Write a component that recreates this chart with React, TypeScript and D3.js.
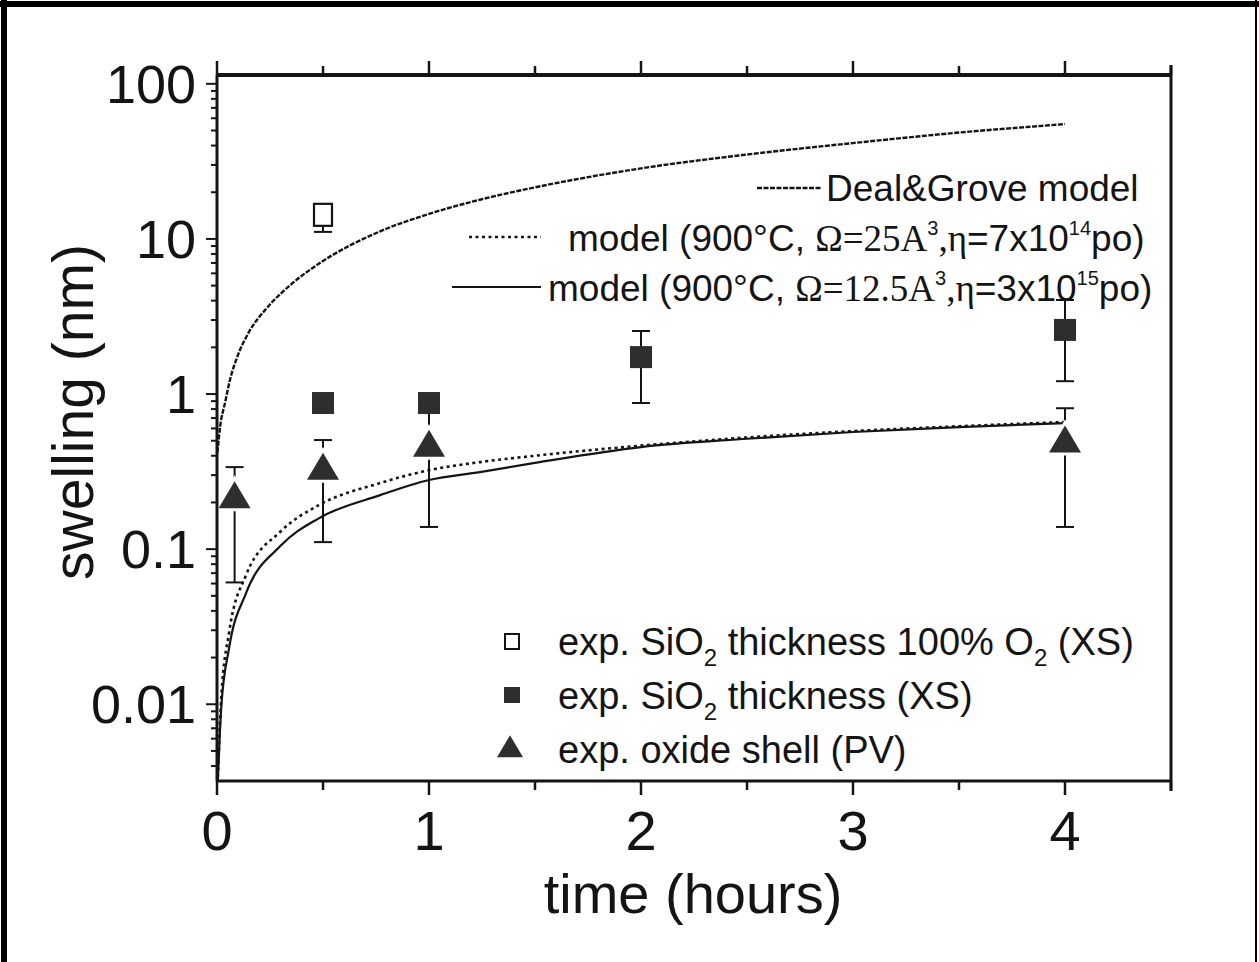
import React from "react";
import * as d3 from "d3";

const W = 1259;
const H = 962;
const PLOT = { left: 217, right: 1171, top: 75, bottom: 781 };

const xDomain = [0, 4.5];
const yDomain = [0.0032, 114];
const xTickValues = [0, 1, 2, 3, 4];
const xTickLabels = ["0", "1", "2", "3", "4"];
const xMinorTicks = [0.5, 1.5, 2.5, 3.5, 4.5];
const yTickValues = [0.01, 0.1, 1, 10, 100];
const yTickLabels = ["0.01", "0.1", "1", "10", "100"];

// model curves [time (h), swelling (nm)]
const dealGrove = [
  [0.002, 0.42], [0.015, 0.62], [0.038, 0.88], [0.061, 1.23], [0.1, 1.8],
  [0.15, 2.5], [0.236, 3.6], [0.35, 5.1], [0.5, 7.2], [0.77, 11.2],
  [1.0, 14.5], [1.24, 17.9], [1.5, 21.5], [2.0, 28.5], [2.5, 35],
  [3.0, 41.5], [3.5, 48.5], [4.0, 55],
];
const modelDotted = [
  [0.004, 0.0034], [0.02, 0.011], [0.057, 0.029], [0.137, 0.068], [0.3, 0.13],
  [0.48, 0.192], [0.77, 0.267], [1.0, 0.323], [1.24, 0.364], [1.5, 0.4],
  [2.0, 0.465], [2.5, 0.525], [3.0, 0.577], [3.5, 0.62], [4.0, 0.66],
];
const modelSolid = [
  [0.004, 0.0032], [0.02, 0.0095], [0.057, 0.023], [0.137, 0.052], [0.3, 0.105],
  [0.48, 0.158], [0.77, 0.223], [1.0, 0.279], [1.24, 0.314], [1.5, 0.36],
  [2.0, 0.455], [2.5, 0.515], [3.0, 0.569], [3.5, 0.612], [4.0, 0.65],
];

// experimental points
const openSqT = [0.5];
const openSqV = [14.3];
const openSqLo = [11.1];
const openSqHi = [14.3];

const fillSqT = [0.5, 1, 2, 4];
const fillSqV = [0.875, 0.875, 1.73, 2.59];
const fillSqLo = [0.875, 0.875, 0.875, 1.21];
const fillSqHi = [0.875, 0.875, 2.55, 4.04];

const triT = [0.083, 0.5, 1, 4];
const triV = [0.21, 0.32, 0.45, 0.48];
const triLo = [0.061, 0.111, 0.139, 0.139];
const triHi = [0.338, 0.505, 0.85, 0.81];

const SANS = "'Liberation Sans', Arial, Helvetica, sans-serif";
const SERIF = "'Liberation Serif', 'Times New Roman', serif";
const INK = "#141414";
const MARK = "#2e2e2e";

export default function App() {
  const x = d3.scaleLinear().domain(xDomain).range([PLOT.left, PLOT.right]);
  const y = d3.scaleLog().domain(yDomain).range([PLOT.bottom, PLOT.top]);

  const line = d3
    .line<number[]>()
    .x((d) => x(d[0]))
    .y((d) => y(d[1]))
    .curve(d3.curveMonotoneX);

  const yMinor: number[] = [];
  for (let e = -3; e <= 2; e++) {
    for (let k = 2; k <= 9; k++) {
      const v = k * Math.pow(10, e);
      if (v >= yDomain[0] && v <= yDomain[1]) yMinor.push(v);
    }
  }

  const tri = (cx: number, cy: number, w: number, h: number) =>
    `M${cx - w / 2},${cy + h / 3}L${cx + w / 2},${cy + h / 3}L${cx},${cy - (2 * h) / 3}Z`;

  const errBar = (t: number, lo: number, hi: number, key: string) => {
    const cx = x(t);
    const cap = 9;
    return (
      <g key={key} stroke={INK} strokeWidth={2}>
        <line x1={cx} x2={cx} y1={y(lo)} y2={y(hi)} />
        {lo !== hi && <line x1={cx - cap} x2={cx + cap} y1={y(lo)} y2={y(lo)} />}
        {lo !== hi && <line x1={cx - cap} x2={cx + cap} y1={y(hi)} y2={y(hi)} />}
      </g>
    );
  };

  const legendFont = 37;
  const subDy = 11;
  const supDy = -16;

  return (
    <div style={{ position: "absolute", left: 0, top: 0 }}>
      <svg width={W} height={H} style={{ display: "block", background: "#fff" }} fontFamily={SANS}>
        {/* outer frame */}
        <line x1={0} x2={W} y1={4} y2={4} stroke="#000" strokeWidth={6} />
        <line x1={4} x2={4} y1={0} y2={H} stroke="#000" strokeWidth={6} />
        <line x1={1256} x2={1256} y1={0} y2={H} stroke="#000" strokeWidth={2} />

        {/* model curves */}
        <path d={line(dealGrove as any) || ""} fill="none" stroke={INK} strokeWidth={2.4} strokeDasharray="5 1.5" />
        <path d={line(modelDotted as any) || ""} fill="none" stroke={INK} strokeWidth={2.6} strokeDasharray="3 3.5" />
        <path d={line(modelSolid as any) || ""} fill="none" stroke={INK} strokeWidth={2.2} />

        {/* error bars */}
        {openSqT.map((t, i) => errBar(t, openSqLo[i], openSqHi[i], "oe" + i))}
        {fillSqT.map((t, i) => errBar(t, fillSqLo[i], fillSqHi[i], "fe" + i))}
        {triT.map((t, i) => errBar(t, triLo[i], triHi[i], "te" + i))}

        {/* markers */}
        {openSqT.map((t, i) => (
          <rect key={"os" + i} x={x(t) - 9} y={y(openSqV[i]) - 11} width={18} height={22} fill="#fff" stroke={INK} strokeWidth={2.2} />
        ))}
        {fillSqT.map((t, i) => (
          <rect key={"fs" + i} x={x(t) - 11} y={y(fillSqV[i]) - 11} width={22} height={22} fill={MARK} />
        ))}
        {triT.map((t, i) => (
          <path key={"tr" + i} d={tri(x(t), y(triV[i]), 32, 27)} fill={MARK} stroke="#fff" strokeWidth={6} style={{ paintOrder: "stroke" }} />
        ))}

        {/* axes frame */}
        <g stroke={INK} fill="none">
          <line x1={PLOT.left} x2={PLOT.right} y1={PLOT.top} y2={PLOT.top} strokeWidth={4} />
          <line x1={PLOT.left} x2={PLOT.right} y1={PLOT.bottom} y2={PLOT.bottom} strokeWidth={3} />
          <line x1={PLOT.left} x2={PLOT.left} y1={PLOT.top} y2={PLOT.bottom} strokeWidth={3} />
          <line x1={PLOT.right} x2={PLOT.right} y1={PLOT.top - 10} y2={PLOT.bottom + 10} strokeWidth={3} />
        </g>

        {/* x ticks (bottom & top) */}
        <g stroke={INK} strokeWidth={2.5}>
          {xTickValues.map((t) => (
            <g key={"xt" + t}>
              <line x1={x(t)} x2={x(t)} y1={PLOT.bottom} y2={PLOT.bottom + 14} />
              <line x1={x(t)} x2={x(t)} y1={PLOT.top} y2={PLOT.top - 14} />
            </g>
          ))}
          {xMinorTicks.map((t) => (
            <g key={"xm" + t}>
              <line x1={x(t)} x2={x(t)} y1={PLOT.bottom} y2={PLOT.bottom + 9} />
              <line x1={x(t)} x2={x(t)} y1={PLOT.top} y2={PLOT.top - 9} />
            </g>
          ))}
        </g>
        {xTickValues.map((t, i) => (
          <text key={"xl" + t} x={x(t)} y={850} textAnchor="middle" fontSize={56} fill={INK}>
            {xTickLabels[i]}
          </text>
        ))}

        {/* y ticks */}
        <g stroke={INK} strokeWidth={2}>
          {yTickValues.map((v) => (
            <line key={"yt" + v} x1={PLOT.left - 11} x2={PLOT.left} y1={y(v)} y2={y(v)} />
          ))}
          {yMinor.map((v) => (
            <line key={"ym" + v} x1={PLOT.left - 6} x2={PLOT.left} y1={y(v)} y2={y(v)} />
          ))}
        </g>
        {yTickValues.map((v, i) => (
          <text key={"yl" + v} x={196} y={y(v) + 19} textAnchor="end" fontSize={54} fill={INK}>
            {yTickLabels[i]}
          </text>
        ))}

        {/* axis titles */}
        <text x={693} y={913} textAnchor="middle" fontSize={56} fill={INK}>
          time (hours)
        </text>
        <text transform="translate(93,412) rotate(-90)" textAnchor="middle" fontSize={57} fill={INK}>
          swelling (nm)
        </text>

        {/* upper legend: model lines */}
        <line x1={757} x2={822} y1={188} y2={188} stroke={INK} strokeWidth={2.4} strokeDasharray="5 1.5" />
        <text x={826} y={201} fontSize={legendFont} fill={INK}>
          Deal&amp;Grove model
        </text>

        <line x1={469} x2={541} y1={237} y2={237} stroke={INK} strokeWidth={2.4} strokeDasharray="3 3.5" />
        <text x={568} y={251} fontSize={legendFont} fill={INK}>
          <tspan>model (900°C, </tspan>
          <tspan fontFamily={SERIF}>Ω=25A</tspan>
          <tspan fontSize={20} dy={supDy}>3</tspan>
          <tspan dy={-supDy} fontFamily={SERIF}>,η</tspan>
          <tspan>=7x10</tspan>
          <tspan fontSize={20} dy={supDy}>14</tspan>
          <tspan dy={-supDy}>po)</tspan>
        </text>

        <line x1={452} x2={541} y1={287} y2={287} stroke={INK} strokeWidth={2.2} />
        <text x={548} y={301} fontSize={legendFont} fill={INK}>
          <tspan>model (900°C, </tspan>
          <tspan fontFamily={SERIF}>Ω=12.5A</tspan>
          <tspan fontSize={20} dy={supDy}>3</tspan>
          <tspan dy={-supDy} fontFamily={SERIF}>,η</tspan>
          <tspan>=3x10</tspan>
          <tspan fontSize={20} dy={supDy}>15</tspan>
          <tspan dy={-supDy}>po)</tspan>
        </text>

        {/* lower legend: experimental */}
        <rect x={512 - 7} y={641 - 7} width={14} height={15} fill="#fff" stroke={INK} strokeWidth={2} />
        <text x={558} y={655} fontSize={legendFont + 1} fill={INK}>
          <tspan>exp. SiO</tspan>
          <tspan fontSize={24} dy={subDy}>2</tspan>
          <tspan dy={-subDy}> thickness 100% O</tspan>
          <tspan fontSize={24} dy={subDy}>2</tspan>
          <tspan dy={-subDy}> (XS)</tspan>
        </text>

        <rect x={512 - 8} y={695 - 8} width={16} height={16} fill={MARK} />
        <text x={558} y={709} fontSize={legendFont + 1} fill={INK}>
          <tspan>exp. SiO</tspan>
          <tspan fontSize={24} dy={subDy}>2</tspan>
          <tspan dy={-subDy}> thickness (XS)</tspan>
        </text>

        <path d={tri(510, 750, 26, 22)} fill={MARK} />
        <text x={558} y={763} fontSize={legendFont + 1} fill={INK}>
          exp. oxide shell (PV)
        </text>
      </svg>
    </div>
  );
}
